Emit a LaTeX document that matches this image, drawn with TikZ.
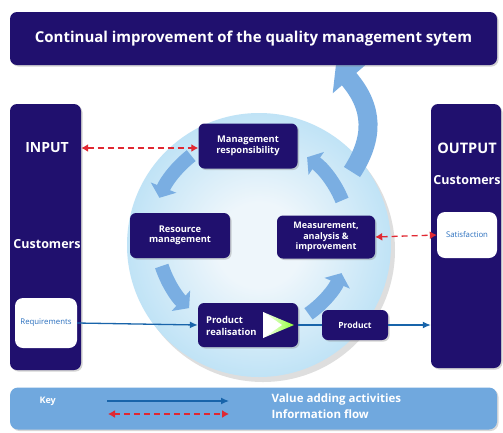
\documentclass[tikz,border=0pt]{standalone}
\usepackage{fontspec}
\setmainfont{Open Sans}
\usetikzlibrary{arrows.meta,shadows,calc}
\definecolor{navy}{RGB}{32,16,110}
\definecolor{lblue}{RGB}{122,174,226}
\definecolor{keyblue}{RGB}{112,168,222}
\definecolor{flowblue}{RGB}{24,100,170}
\definecolor{infored}{RGB}{225,40,50}
\definecolor{reqblue}{RGB}{40,110,190}
\definecolor{ballA}{RGB}{238,246,251}
\definecolor{ballB}{RGB}{192,227,246}
\definecolor{ballC}{RGB}{150,208,240}
\definecolor{ballD}{RGB}{120,188,232}
\pgfdeclareradialshading{ballshade}{\pgfpoint{0bp}{0bp}}{%
  color(0bp)=(ballA); color(8bp)=(ballA);
  color(25bp)=(ballB); color(40bp)=(ballC);
  color(48bp)=(ballD); color(50bp)=(ballC)}
\begin{document}
\begin{tikzpicture}[x=1pt,y=-1pt,
  navybox/.style={fill=navy, rounded corners=7pt, inner sep=0pt,
    drop shadow={opacity=0.35,shadow xshift=1.5pt,shadow yshift=-1.5pt}},
  procbox/.style={navybox, rounded corners=6pt, text=white, align=center,
    font=\fontsize{9.3}{10.5}\selectfont\bfseries},
  whitebox/.style={fill=white, rounded corners=8pt, inner sep=0pt,
    text=reqblue, font=\fontsize{7.8}{8}\selectfont},
  sidetext/.style={text=white, font=\fontsize{12.5}{13}\selectfont\bfseries},
  cyclearrow/.style={lblue, line width=14pt, -{Triangle[width=27pt,length=11pt]}},
  flowline/.style={flowblue, line width=1.3pt},
  infoline/.style={infored, line width=1.3pt, dash pattern=on 6pt off 4pt, {Latex[length=7pt,width=8pt]}-{Latex[length=7pt,width=8pt]}},
  keytext/.style={text=white, font=\fontsize{11.5}{12}\selectfont\bfseries, anchor=west}
]
\useasboundingbox (0,0) rectangle (503,432);
\fill[white] (0,0) rectangle (503,432);

% big circle
\fill[black,opacity=0.13] (263,250) circle (132);
\shade[shading=ballshade] (259,245) circle (132);

% big arrow to banner
\draw[lblue, line width=19pt, -{Triangle[width=42pt,length=20pt]}]
  (352,172) .. controls (374,138) and (374,108) .. (336,64);

% banner
\node[navybox, minimum width=487pt, minimum height=53pt, text=white,
  font=\fontsize{15}{16}\selectfont\bfseries] (banner) at (253.5,38.5)
  {Continual improvement of the quality management sytem};

% side boxes
\node[navybox, minimum width=71pt, minimum height=266pt] (inbox) at (45.5,237) {};
\node[navybox, minimum width=70pt, minimum height=264pt] (outbox) at (466,236) {};
\node[sidetext, font=\fontsize{14}{15}\selectfont\bfseries] (inp) at (47,148) {INPUT};
\node[sidetext] (cin) at (47,244) {Customers};
\node[sidetext, font=\fontsize{14.5}{15}\selectfont\bfseries] (outp) at (467,148) {OUTPUT};
\node[sidetext] (cout) at (467,180) {Customers};
\node[whitebox, minimum width=62pt, minimum height=50pt] (req) at (46,323) {Requirements};
\node[whitebox, minimum width=60pt, minimum height=46pt] (sat) at (467,235) {Satisfaction};

% cycle arrows
\coordinate (cc) at (254,236);
\draw[cyclearrow] ($(cc)+(-128:102)$) arc[start angle=-128, end angle=-158, radius=102];
\draw[cyclearrow] ($(cc)+(-198:97)$) arc[start angle=-198, end angle=-228, radius=97];
\draw[cyclearrow] ($(cc)+(-305:95)$) arc[start angle=-305, end angle=-337, radius=95];
\draw[cyclearrow] ($(cc)+(-22:95)$) arc[start angle=-22, end angle=-56, radius=95];

% process boxes
\node[procbox, minimum width=99pt, minimum height=45pt] (mr) at (248,146)
  {Management\\responsibility};
\node[procbox, minimum width=100pt, minimum height=45pt] (rm) at (180,235.5)
  {Resource\\management};
\node[procbox, minimum width=98pt, minimum height=43pt, font=\fontsize{9}{10.5}\selectfont\bfseries] (mai) at (326,237)
  {Measurement,\\analysis \&\\improvement};
\node[procbox, minimum width=100pt, minimum height=44pt] (pr) at (248,325) {};
\node[text=white, align=left, anchor=west, inner sep=0pt,
  font=\fontsize{9.4}{11.5}\selectfont\bfseries] (prt) at (206,326) {Product\\realisation};
\shade[left color=white, right color=green!55!yellow!80!white]
  (263,312) -- (294,325) -- (263,338) -- cycle;
\fill[white] (263,312) -- (282,325) -- (263,338) -- cycle;
\node[procbox, minimum width=66pt, minimum height=30pt, font=\fontsize{8.5}{9}\selectfont\bfseries] (prod) at (355,325) {Product};

% flows
\draw[flowline, -{Latex[length=8pt,width=7pt]}] (req.east) -- (pr.west);
\draw[flowline] (pr.east) -- (prod.west);
\draw[flowline, -{Latex[length=8pt,width=7pt]}] (prod.east) -- (outbox.west |- prod.east);
\draw[infoline] (inbox.east |- inp) -- (mr.west |- inp);
\draw[infoline] (mai.east) -- (sat.west);

% key
\node[fill=keyblue, rounded corners=8pt, minimum width=487pt, minimum height=42pt,
  drop shadow={opacity=0.3,shadow xshift=1.5pt,shadow yshift=-1.5pt}] (keybar) at (253.5,408.5) {};
\node[keytext, font=\fontsize{9}{9}\selectfont\bfseries] (keyt) at (36,401) {Key};
\coordinate (ka) at (107,401);
\coordinate (kb) at (229,401);
\coordinate (kc) at (108,414);
\coordinate (kd) at (229,414);
\draw[flowline, -{Latex[length=8pt,width=7pt]}] (ka) -- (kb);
\draw[infoline] (kc) -- (kd);
\node[keytext] (v) at (268,400) {Value adding activities};
\node[keytext] (i) at (268,414) {Information flow};
\end{tikzpicture}
\end{document}
